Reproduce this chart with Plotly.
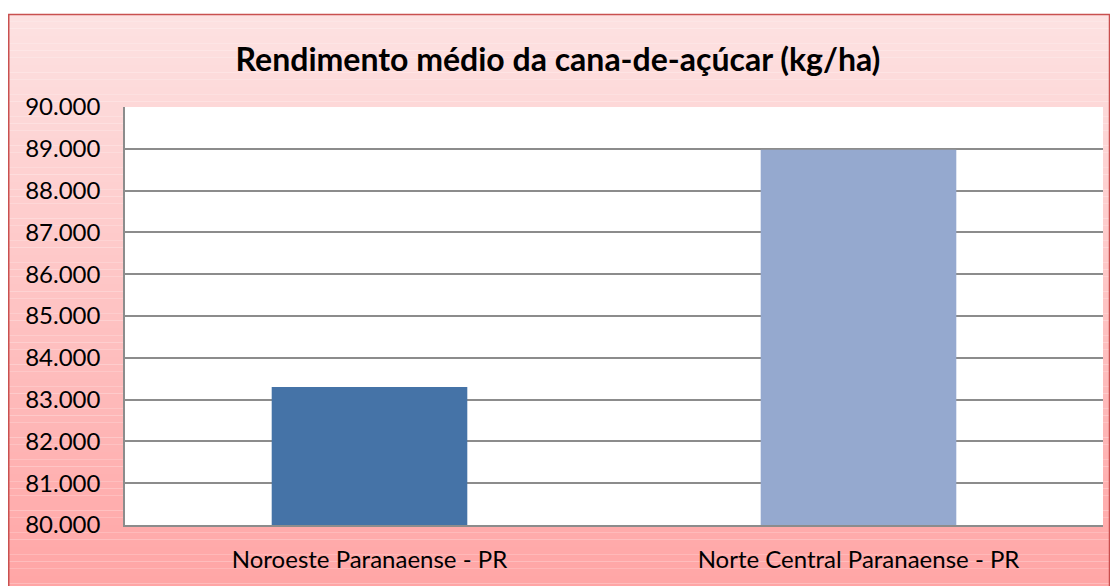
import plotly.graph_objects as go

categories = ["Noroeste Paranaense - PR", "Norte Central Paranaense - PR"]
values = [83300, 88980]
bar_colors = ["#4573A7", "#95A9CF"]
title_text = "Rendimento médio da cana-de-açúcar (kg/ha)"

W, H = 1118, 586
L, R, T, B = 117, 23, 99, 69
pw, ph = W - L - R, H - T - B

def px_x(px):
    return (px - L) / pw

def px_y(py):
    return (H - B - py) / ph

fig = go.Figure(go.Bar(x=categories, y=values, marker=dict(color=bar_colors, line=dict(width=0)), width=0.4))

shapes = []
top_c = (253, 226, 226)
bot_c = (255, 164, 164)
y0px, y1px = 6, 590
n = 80
for i in range(n):
    a = y0px + (y1px - y0px) * i / n
    b = y0px + (y1px - y0px) * (i + 1) / n
    t = (i + 0.5) / n
    c = tuple(round(top_c[k] + (bot_c[k] - top_c[k]) * t) for k in range(3))
    shapes.append(dict(type="rect", xref="paper", yref="paper", layer="below",
                       x0=px_x(0), x1=px_x(1102), y0=px_y(b), y1=px_y(a),
                       fillcolor="rgb(%d,%d,%d)" % c, line=dict(width=0)))
# white plot area
shapes.append(dict(type="rect", xref="paper", yref="paper", layer="below",
                   x0=0, x1=1, y0=0, y1=1, fillcolor="white", line=dict(width=0)))
shapes.append(dict(type="rect", xref="paper", yref="paper", layer="above",
                   x0=px_x(0.75), x1=px_x(1101.5), y0=px_y(600), y1=px_y(6.5),
                   fillcolor="rgba(0,0,0,0)", line=dict(color="#C9504F", width=1.5)))

fig.update_layout(
    width=W, height=H,
    margin=dict(l=L, r=R, t=T, b=B, pad=0, autoexpand=False),
    paper_bgcolor="white", plot_bgcolor="rgba(0,0,0,0)",
    separators=",.",
    shapes=shapes,
    showlegend=False,
    bargap=0.6,
    title=dict(text="<b>" + title_text + "</b>", x=550 / W, xanchor="center",
               y=1 - 52 / H, yanchor="middle",
               font=dict(family="Lato, Carlito, sans-serif", size=32, color="black")),
    font=dict(family="Lato, Carlito, sans-serif", color="black"),
)
fig.update_xaxes(showgrid=False, showline=True, linecolor="#8C8C8C", linewidth=1.5,
                 automargin=False,
                 ticks="", tickfont=dict(size=24, color="black"), ticklabelstandoff=12)
fig.update_yaxes(range=[80000, 90000], dtick=1000, tickformat=",d",
                 showgrid=True, gridcolor="#8C8C8C", gridwidth=1.5,
                 showline=True, linecolor="#8C8C8C", linewidth=1.5, zeroline=False,
                 automargin=False,
                 ticks="", tickfont=dict(size=24, color="black"), ticklabelstandoff=18)

fig.write_html("out.html")
